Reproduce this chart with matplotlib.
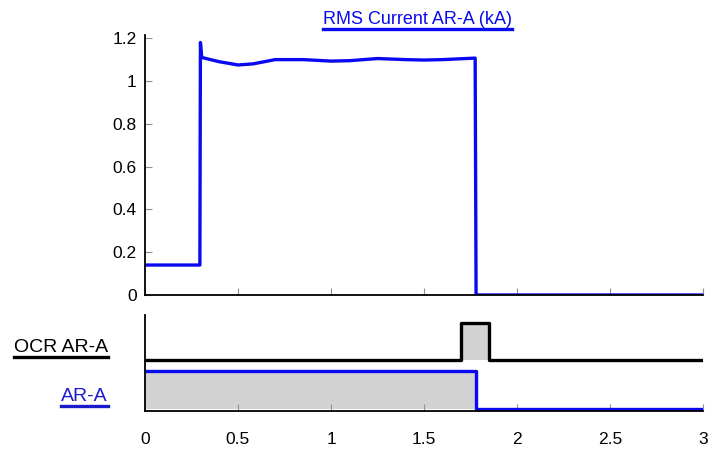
import matplotlib
matplotlib.use("Agg")
import matplotlib.pyplot as plt
from matplotlib.lines import Line2D

plt.rcParams['font.family'] = ['Liberation Sans', 'DejaVu Sans']

# RMS current trace (time in s, current in kA)
t_rms = [0.0, 0.295, 0.298, 0.305, 0.40, 0.50, 0.58, 0.70, 0.85, 1.00, 1.10,
         1.25, 1.40, 1.50, 1.60, 1.775, 1.78, 3.0]
i_rms = [0.14, 0.14, 1.18, 1.11, 1.09, 1.075, 1.08, 1.10, 1.10, 1.093, 1.095,
         1.105, 1.10, 1.098, 1.10, 1.107, 0.0, 0.0]

# Digital channels: (time, state)
t_ocr = [0.0, 1.70, 1.70, 1.85, 1.85, 3.0]
s_ocr = [0, 0, 1, 1, 0, 0]
t_ar = [0.0, 1.78, 1.78, 3.0]
s_ar = [1, 1, 0, 0]

x_ticks = [0, 0.5, 1, 1.5, 2, 2.5, 3]
x_tick_labels = ["0", "0.5", "1", "1.5", "2", "2.5", "3"]
y_ticks = [0, 0.2, 0.4, 0.6, 0.8, 1.0, 1.2]
y_tick_labels = ["0", "0.2", "0.4", "0.6", "0.8", "1", "1.2"]

title = "RMS Current AR-A (kA)"
ocr_label = "OCR AR-A"
ar_label = "AR-A"

BLUE = "#0a0af0"
GRAY = "#d3d3d3"
TICK_GRAY = "#909090"
FS = 12.5

fig = plt.figure(figsize=(7.11, 4.55), dpi=100)
fig.patch.set_facecolor("white")

# --- analog panel ---
ax = fig.add_axes([145/711, 1 - 295/455, 558/711, 260/455])
ax.plot(t_rms, i_rms, color=BLUE, lw=2.4, solid_joinstyle="round")
ax.set_xlim(0, 3)
ax.set_ylim(0, 1.215)
ax.set_xticks(x_ticks)
ax.set_xticklabels([])
ax.set_yticks(y_ticks)
ax.set_yticklabels(y_tick_labels, fontsize=FS)
ax.tick_params(axis="both", direction="in", length=5, color=TICK_GRAY, width=0.8)
ax.tick_params(axis="y", pad=6)
for s in ("top", "right"):
    ax.spines[s].set_visible(False)
for s in ("left", "bottom"):
    ax.spines[s].set_linewidth(1.3)
    ax.spines[s].set_color("black")

# --- digital panel ---
bx = fig.add_axes([145/711, 1 - 411/455, 558/711, 96/455])
bx.set_xlim(0, 3)
bx.set_ylim(0, 1)
ocr_low, ocr_high = 0.53, 0.92
ar_low, ar_high = 0.02, 0.42
ocr_y = [ocr_low + s * (ocr_high - ocr_low) for s in s_ocr]
ar_y = [ar_low + s * (ar_high - ar_low) for s in s_ar]
bx.fill_between(t_ocr, ocr_low, ocr_y, color=GRAY, lw=0)
bx.fill_between(t_ar, ar_low, ar_y, color=GRAY, lw=0)
bx.plot(t_ocr, ocr_y, color="black", lw=2.4)
bx.plot(t_ar, ar_y, color=BLUE, lw=2.4)
bx.set_xticks(x_ticks)
bx.set_xticklabels(x_tick_labels, fontsize=FS)
bx.set_yticks([])
bx.tick_params(axis="x", direction="in", length=5, color=TICK_GRAY, width=0.8, pad=15)
for s in ("top", "right"):
    bx.spines[s].set_visible(False)
for s in ("left", "bottom"):
    bx.spines[s].set_linewidth(1.3)
    bx.spines[s].set_color("black")

# --- underlined labels ---
def underlined(x, y, text, color, ha, lw, fs):
    t = fig.text(x, y, text, color=color, fontsize=fs, ha=ha, va="baseline")
    fig.canvas.draw()
    bb = t.get_window_extent().transformed(fig.transFigure.inverted())
    yl = y - 5 / 455
    fig.add_artist(Line2D([bb.x0, bb.x1], [yl, yl], color=color, lw=lw,
                          transform=fig.transFigure))
    return t

underlined(417/711, 1 - 24/455, title, BLUE, "center", 2.4, 13)
underlined(108/711, 1 - 352/455, ocr_label, "black", "right", 2.4, 14)
underlined(108/711, 1 - 401/455, ar_label, "#1a1acc", "right", 2.4, 14)

fig.savefig("out.png", dpi=100, facecolor="white")
